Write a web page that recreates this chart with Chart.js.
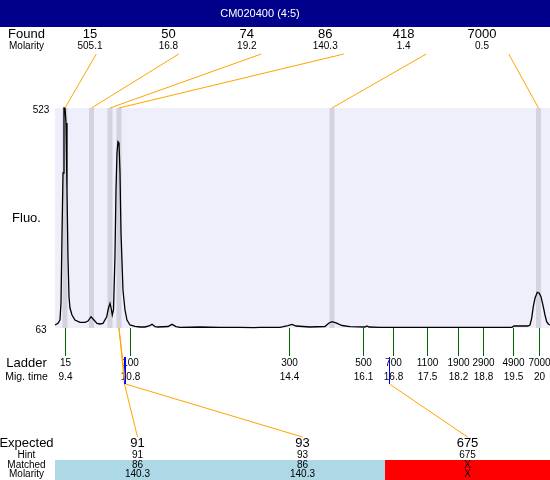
<!DOCTYPE html>
<html><head><meta charset="utf-8">
<script src="https://cdn.jsdelivr.net/npm/chart.js@4/dist/chart.umd.min.js"></script>
<style>html,body{margin:0;padding:0;background:#fff;overflow:hidden}#wrap{width:550px;height:480px;position:relative}</style>
</head><body><div id="wrap"><canvas id="c" width="550" height="480"></canvas></div>
<script>
// ---- data ----
const title = "CM020400 (4:5)";
const foundSizes = ["15","50","74","86","418","7000"];
const foundMolarity = ["505.1","16.8","19.2","140.3","1.4","0.5"];
const foundTimes = [9.393, 9.986, 10.400, 10.601, 15.364, 19.981];
const ladderSizes = ["15","100","300","500","700","1100","1900","2900","4900","7000"];
const ladderTimes = [9.40, 10.85, 14.41, 16.06, 16.73, 17.48, 18.19, 18.75, 19.42, 20.00];
const ladderTimeLabels = ["9.4","10.8","14.4","16.1","16.8","17.5","18.2","18.8","19.5","20"];
const expectedSizes = ["91","93","675"];
const expectedHints = ["91","93","675"];
const expectedTimes = [10.713, 10.735, 16.645];
const matchedPeak = [3, 3, -1];
const matchedSizes = ["86","86","X"];
const matchedMolarity = ["140.3","140.3","X"];
const yTickValues = [63, 523];
const traceTime = [9.170,9.237,9.281,9.304,9.326,9.349,9.371,9.393,9.416,9.438,9.460,9.483,9.505,9.550,9.617,9.729,9.841,9.908,9.976,10.042,10.109,10.176,10.243,10.326,10.366,10.400,10.429,10.451,10.478,10.511,10.534,10.556,10.578,10.601,10.623,10.646,10.690,10.735,10.780,10.847,10.959,11.070,11.182,11.272,11.339,11.406,11.473,11.697,11.786,11.876,11.965,12.413,12.860,13.307,13.620,13.754,14.201,14.380,14.469,14.559,14.872,15.207,15.297,15.364,15.453,15.587,15.766,16.101,16.146,16.191,16.437,16.884,17.331,17.778,18.225,18.673,19.120,19.388,19.433,19.746,19.791,19.829,19.865,19.903,19.954,19.999,20.037,20.089,20.127,20.165,20.201,20.239];
const traceFluo = [69.3,72.8,79.7,115.3,253.9,387.1,523,523,491.6,351.5,212.1,128.4,104.8,90.2,79.7,74.9,74.9,77.6,86.6,79.7,72.8,71.4,72.8,86.6,104.8,114.6,102.7,90.2,100.6,212.1,351.5,428.9,452.5,449.8,390.6,261.6,142.5,100.6,79.7,69.3,66.6,65.1,65.1,67.2,70.7,66.1,65.1,66.1,70.7,66.1,64.5,65.1,64.5,64.5,63.6,64.5,64.5,68.2,70.7,67.2,65.1,66.1,73.5,76.2,73.5,68.2,65.7,65.1,67.2,65.1,64.5,64.5,64.5,64.5,64.5,64.5,64.5,64.5,67.2,67.2,69.3,83.3,107.5,125.1,137.6,135.6,128.4,107.5,90.2,76.2,71.4,69.3];

const FONT = '"Liberation Sans", Arial, sans-serif';
const ORANGE = '#FFA500';

function txt(ctx, s, x, y, size, color, spacing) {
  ctx.save();
  ctx.font = size + 'px ' + FONT;
  ctx.fillStyle = color || '#000';
  ctx.textAlign = 'center';
  ctx.textBaseline = 'middle';
  if (spacing) ctx.letterSpacing = spacing;
  ctx.fillText(s, x, y);
  ctx.restore();
}
function line(ctx, pts, color) {
  ctx.save();
  ctx.strokeStyle = color; ctx.lineWidth = 1;
  ctx.beginPath();
  pts.forEach((p, i) => i ? ctx.lineTo(p[0], p[1]) : ctx.moveTo(p[0], p[1]));
  ctx.stroke();
  ctx.restore();
}

const decor = {
  id: 'decor',
  beforeDraw(chart) {
    const {ctx, chartArea: a} = chart;
    ctx.save();
    ctx.fillStyle = '#fff';
    ctx.fillRect(0, 0, chart.width, chart.height);
    ctx.fillStyle = '#EFEFFB';
    ctx.fillRect(a.left, a.top, a.right - a.left, a.bottom - a.top);
    ctx.restore();
  },
  beforeDatasetsDraw(chart) {
    const {ctx, chartArea: a, scales: {x}} = chart;
    ctx.save();
    ctx.fillStyle = '#D3D3E0';
    foundTimes.forEach(t => {
      const px = x.getPixelForValue(t);
      ctx.fillRect(px - 2.5, a.top, 5, a.bottom - a.top);
    });
    ctx.restore();
  },
  afterDatasetsDraw(chart) {
    const {ctx, chartArea: a, scales: {x, y}} = chart;
    const W = chart.width;
    // title bar
    ctx.save();
    ctx.fillStyle = '#00008B';
    ctx.fillRect(0, 0, W, 27);
    ctx.restore();
    txt(ctx, title, 260, 14, 11, '#fff');

    // found row
    const labelX = 26.5;
    txt(ctx, 'Found', labelX, 34, 13);
    txt(ctx, 'Molarity', labelX, 46, 10);
    const topColW = (a.right - a.left) / foundSizes.length;
    foundSizes.forEach((s, i) => {
      const tx = 90 + i * 78.4;
      txt(ctx, s, tx, 34, 13);
      txt(ctx, foundMolarity[i], tx, 46, 10);
      const cx = a.left + topColW * (i + 0.5);
      const bx = x.getPixelForValue(foundTimes[i]);
      line(ctx, [[cx, 54], [bx, a.top]], ORANGE);
    });

    // y axis labels
    txt(ctx, String(yTickValues[1]), 41, y.getPixelForValue(yTickValues[1]) + 2, 10);
    txt(ctx, String(yTickValues[0]), 41, y.getPixelForValue(yTickValues[0]) + 2, 10);
    txt(ctx, 'Fluo.', 26.5, (a.top + a.bottom) / 2, 13);

    // ladder
    txt(ctx, 'Ladder', labelX, 363, 13);
    txt(ctx, 'Mig. time', labelX, 377, 10.5);
    ladderTimes.forEach((t, i) => {
      const px = Math.round(x.getPixelForValue(t)) + 0.5;
      line(ctx, [[px, a.bottom], [px, 356]], '#006400');
      txt(ctx, ladderSizes[i], px, 363, 10);
      txt(ctx, ladderTimeLabels[i], px, 377, 10);
    });

    // expected
    const botColW = (a.right - a.left) / expectedSizes.length;
    expectedSizes.forEach((s, i) => {
      ctx.save();
      ctx.fillStyle = matchedPeak[i] >= 0 ? '#ADD8E6' : '#FF0000';
      ctx.fillRect(a.left + botColW * i, 460, botColW, 20);
      ctx.restore();
    });
    expectedSizes.forEach((s, i) => {
      const cx = a.left + botColW * (i + 0.5);
      const ex = Math.round(x.getPixelForValue(expectedTimes[i])) + 0.5;
      const pts = [];
      if (matchedPeak[i] >= 0) pts.push([x.getPixelForValue(foundTimes[matchedPeak[i]]), a.bottom]);
      pts.push([ex, 384], [cx, 437]);
      line(ctx, pts, ORANGE);
      line(ctx, [[ex, 357], [ex, 384]], '#0000FF');
      txt(ctx, s, cx, 443, 13);
      txt(ctx, expectedHints[i], cx, 455, 10);
      txt(ctx, matchedSizes[i], cx, 465, 10);
      txt(ctx, matchedMolarity[i], cx, 474.5, 10);
    });
    txt(ctx, 'Expected', labelX, 443, 13);
    txt(ctx, 'Hint', labelX, 455, 10);
    txt(ctx, 'Matched', labelX, 465, 10);
    txt(ctx, 'Molarity', labelX, 474.5, 10);
  }
};

new Chart(document.getElementById('c'), {
  type: 'line',
  data: {
    datasets: [{
      data: traceTime.map((t, i) => ({x: t, y: traceFluo[i]})),
      borderColor: '#000', borderWidth: 1.3, pointRadius: 0, tension: 0, fill: false,
      clip: 3
    }]
  },
  options: {
    responsive: false, animation: false,
    layout: {padding: {left: 55, right: 0, top: 108, bottom: 152}},
    scales: {
      x: {type: 'linear', min: 9.170, max: 20.239, display: false},
      y: {min: 63, max: 523, display: false}
    },
    plugins: {legend: {display: false}, tooltip: {enabled: false}}
  },
  plugins: [decor]
});
</script></body></html>
